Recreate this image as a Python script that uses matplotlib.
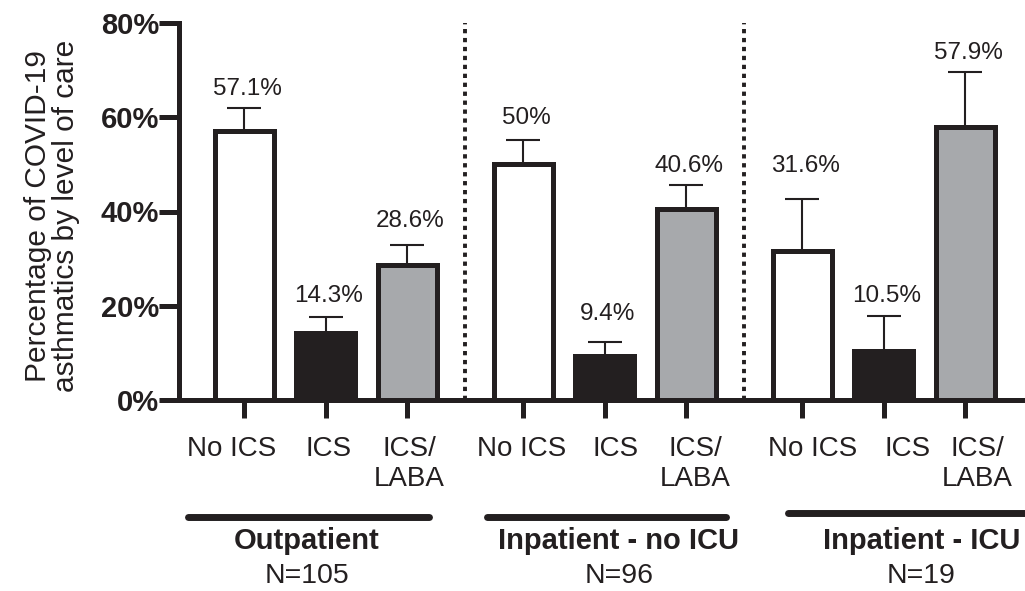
import matplotlib.pyplot as plt
from matplotlib.transforms import ScaledTranslation, blended_transform_factory

plt.rcParams['font.family'] = ['Liberation Sans', 'DejaVu Sans']

# data
groups = ['Outpatient', 'Inpatient - no ICU', 'Inpatient - ICU']
group_n = ['N=105', 'N=96', 'N=19']
treatments = ['No ICS', 'ICS', 'ICS/\nLABA']
outpatient = [57.1, 14.3, 28.6]
inpatient_no_icu = [50.0, 9.4, 40.6]
inpatient_icu = [31.6, 10.5, 57.9]
outpatient_err = [4.9, 3.3, 4.3]
inpatient_no_icu_err = [5.2, 2.9, 5.0]
inpatient_icu_err = [11.0, 7.3, 11.7]
yticks = [0, 20, 40, 60, 80]

values = [outpatient, inpatient_no_icu, inpatient_icu]
errors = [outpatient_err, inpatient_no_icu_err, inpatient_icu_err]

# style
ink = '#231f20'
fills = ['white', ink, '#a7a9ac']
group_step = 3.42
label_gap = [13, 15, 18, 16, 22, 13, 27, 14, 13]      # px above error bar
tick_dx = [-13, 3, 2, -2, 11, 9, 10, 24, 12]           # px shift of tick labels
line_span = [(-0.69, 2.26), (-0.45, 2.49), (-0.17, 2.85)]
line_y = [-0.310, -0.310, -0.300]
title_dx = [0.77, 1.17, 1.46]

fig = plt.figure(figsize=(10.25, 5.91), dpi=100)
ax = fig.add_axes([179/1025, 191/591, 846/1025, 377/591])

x = []
k = 0
for g in range(len(groups)):
    for i in range(len(treatments)):
        pos = g * group_step + i
        x.append(pos)
        v = values[g][i]
        e = errors[g][i]
        ax.bar(pos, v, width=0.72, color=fills[i], edgecolor=ink,
               linewidth=3.6, zorder=2)
        ax.errorbar(pos, v, yerr=[[0], [e]], fmt='none', ecolor=ink,
                    elinewidth=1.5, capsize=12, capthick=1.5, zorder=1)
        ax.annotate(f'{v:g}%', (pos, v + e), xytext=(2, label_gap[k] * 0.72),
                    textcoords='offset points', ha='center', va='baseline',
                    fontsize=17.5, color=ink)
        k += 1

for g in range(1, len(groups)):
    ax.axvline((g - 1) * group_step + 2 + (group_step - 2) / 2, color=ink,
               lw=2.8, linestyle=(0, (1.1, 1.2)), zorder=0)

ax.set_xlim(-0.80, 9.57)
ax.set_ylim(0, 80)
for s in ['top', 'right']:
    ax.spines[s].set_visible(False)
for s in ['left', 'bottom']:
    ax.spines[s].set_linewidth(3.6)
    ax.spines[s].set_color(ink)
    ax.spines[s].set_capstyle('projecting')

ax.set_yticks(yticks)
ax.set_yticklabels([f'{t}%' for t in yticks], fontsize=21, fontweight='bold')
ax.tick_params(axis='y', length=14.4, width=3.6, color=ink, pad=0, labelcolor=ink)
ax.set_xticks(x)
ax.set_xticklabels(treatments * len(groups), fontsize=20, linespacing=1.2)
ax.tick_params(axis='x', length=13, width=3.6, color=ink, pad=13, labelcolor=ink)
for lab, dx in zip(ax.get_xticklabels(), tick_dx):
    lab.set_transform(lab.get_transform() + ScaledTranslation(dx / 100, 0, fig.dpi_scale_trans))

trans = blended_transform_factory(ax.transData, ax.transAxes)
for g in range(len(groups)):
    start = g * group_step
    a, b = line_span[g]
    ax.plot([start + a, start + b], [line_y[g], line_y[g]], color=ink, lw=5,
            solid_capstyle='round', transform=trans, clip_on=False)
    ax.text(start + title_dx[g], -0.395, groups[g], transform=trans, ha='center',
            va='baseline', fontsize=21, fontweight='bold', color=ink)
    ax.text(start + title_dx[g], -0.486, group_n[g], transform=trans, ha='center',
            va='baseline', fontsize=20.5, color=ink)

fig.text(52/1025, (591 - 216)/591, 'Percentage of COVID-19\nasthmatics by level of care',
         rotation=90, ha='center', va='center', fontsize=21.5, linespacing=1.0, color=ink)

fig.savefig('out.png', dpi=100)
